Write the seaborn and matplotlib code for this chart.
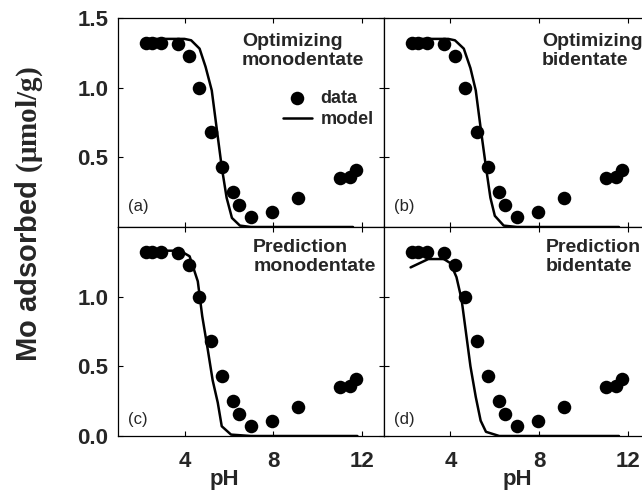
import numpy as np
import pandas as pd
import matplotlib
matplotlib.use("Agg")
import matplotlib.pyplot as plt
import seaborn as sns

# ---------------- data ----------------
ph_data = [2.27, 2.55, 2.95, 3.7, 4.2, 4.65, 5.2, 5.7, 6.2, 6.45, 7.0, 7.95, 9.1, 11.0, 11.45, 11.75]
mo_data = [1.32, 1.32, 1.32, 1.31, 1.23, 1.0, 0.68, 0.43, 0.25, 0.16, 0.07, 0.11, 0.21, 0.35, 0.36, 0.41]

ph_model_a = [2.2, 3.0, 4.0, 4.3, 4.68, 4.95, 5.23, 5.45, 5.68, 5.9, 6.14, 6.5, 7.0, 9.0, 11.6]
mo_model_a = [1.35, 1.35, 1.35, 1.34, 1.28, 1.15, 0.98, 0.71, 0.43, 0.21, 0.065, 0.01, 0.0, 0.0, 0.0]

ph_model_b = [2.2, 3.0, 3.9, 4.2, 4.6, 4.9, 5.14, 5.36, 5.6, 5.8, 6.0, 6.4, 7.0, 9.0, 11.6]
mo_model_b = [1.35, 1.35, 1.35, 1.34, 1.28, 1.14, 0.98, 0.71, 0.43, 0.21, 0.08, 0.01, 0.0, 0.0, 0.0]

ph_model_c = [2.2, 3.0, 3.8, 4.23, 4.6, 4.8, 5.05, 5.27, 5.5, 5.68, 6.1, 7.0, 9.0, 11.8]
mo_model_c = [1.33, 1.33, 1.33, 1.29, 1.11, 0.86, 0.62, 0.40, 0.24, 0.07, 0.01, 0.0, 0.0, 0.0]

ph_model_d = [2.2, 3.0, 3.7, 4.0, 4.27, 4.5, 4.7, 4.9, 5.14, 5.36, 5.6, 6.2, 7.0, 9.0, 11.6]
mo_model_d = [1.21, 1.27, 1.27, 1.24, 1.14, 0.98, 0.74, 0.50, 0.28, 0.11, 0.03, 0.0, 0.0, 0.0, 0.0]

panel_titles = ["Optimizing\nmonodentate", "Optimizing\nbidentate",
                "Prediction\nmonodentate", "Prediction\nbidentate"]
panel_tags = ["(a)", "(b)", "(c)", "(d)"]
x_ticks = [4, 8, 12]
y_ticks_top = [0.5, 1.0, 1.5]
y_ticks_bottom = [0.0, 0.5, 1.0]

models = [(ph_model_a, mo_model_a), (ph_model_b, mo_model_b),
          (ph_model_c, mo_model_c), (ph_model_d, mo_model_d)]

# ---------------- style ----------------
sns.set_theme(style="white")
plt.rcParams['font.family'] = ['Liberation Sans', 'DejaVu Sans']
plt.rcParams['mathtext.fontset'] = 'custom'
plt.rcParams['mathtext.bf'] = 'Liberation Serif:bold'
plt.rcParams['mathtext.rm'] = 'Liberation Serif'

W, H = 642, 491
fig = plt.figure(figsize=(W / 100, H / 100), dpi=100)

left_px = [118, 384]
top_px = [18, 227]
pw, ph_ = 266, 209

axes = []
for r in range(2):
    for c in range(2):
        l = left_px[c] / W
        b = 1 - (top_px[r] + ph_) / H
        ax = fig.add_axes([l, b, pw / W, ph_ / H])
        axes.append(ax)

title_pos = [(0.466, 0.84), (0.594, 0.84), (0.508, 0.858), (0.609, 0.858)]
tag_pos = [(0.038, 0.10), (0.038, 0.10), (0.038, 0.078), (0.038, 0.078)]
xlabel_x = [0.40, 0.50]

for i, ax in enumerate(axes):
    r, c = divmod(i, 2)
    pm, mm = models[i]
    sns.lineplot(x=pm, y=mm, ax=ax, color="black", linewidth=1.8, sort=False,
                 estimator=None, label="model" if i == 0 else None, legend=False)
    sns.scatterplot(x=ph_data, y=mo_data, ax=ax, color="black", s=95, linewidth=0,
                    label="data" if i == 0 else None, legend=False, zorder=3)
    ax.set_xlim(1, 13)
    ax.set_ylim(0, 1.5)
    ax.set_xticks(x_ticks)
    ax.set_yticks(y_ticks_top if r == 0 else y_ticks_bottom)
    ax.yaxis.set_major_formatter(matplotlib.ticker.FormatStrFormatter('%.1f'))
    ax.tick_params(direction="in", length=3.5, width=0.8, top=True, right=True,
                   bottom=True, left=True, color="black", labelsize=16,
                   labelbottom=(r == 1), labelleft=(c == 0))
    ax.tick_params(axis="x", pad=11)
    ax.tick_params(axis="y", pad=7)
    for lab in ax.get_xticklabels() + ax.get_yticklabels():
        lab.set_fontweight("bold")
    for sp in ax.spines.values():
        sp.set_color("black")
        sp.set_linewidth(0.9)
    ax.set_ylabel("")
    if r == 1:
        ax.set_xlabel("pH", fontsize=16, fontweight="bold")
        ax.xaxis.set_label_coords(xlabel_x[c], -0.158)
    else:
        ax.set_xlabel("")
    ax.text(title_pos[i][0], title_pos[i][1], panel_titles[i], transform=ax.transAxes,
            ha="left", va="center", fontsize=14, fontweight="bold", linespacing=1.15)
    ax.text(tag_pos[i][0], tag_pos[i][1], panel_tags[i], transform=ax.transAxes,
            ha="left", va="center", fontsize=12)
    if i == 0:
        h, lbl = ax.get_legend_handles_labels()
        order = [lbl.index("data"), lbl.index("model")]
        ax.legend([h[k] for k in order], [lbl[k] for k in order],
                  loc="upper left", bbox_to_anchor=(0.585, 0.7), frameon=False,
                  prop={"weight": "bold", "size": 13}, handlelength=1.6,
                  handletextpad=0.5, labelspacing=0.25, borderpad=0)

fig.text(29 / W, 1 - 214 / H, r"Mo adsorbed $\mathbf{(\mu mol/g)}$", rotation=90,
         ha="center", va="center", fontsize=21, fontweight="bold")

fig.savefig("out.png", dpi=100)
